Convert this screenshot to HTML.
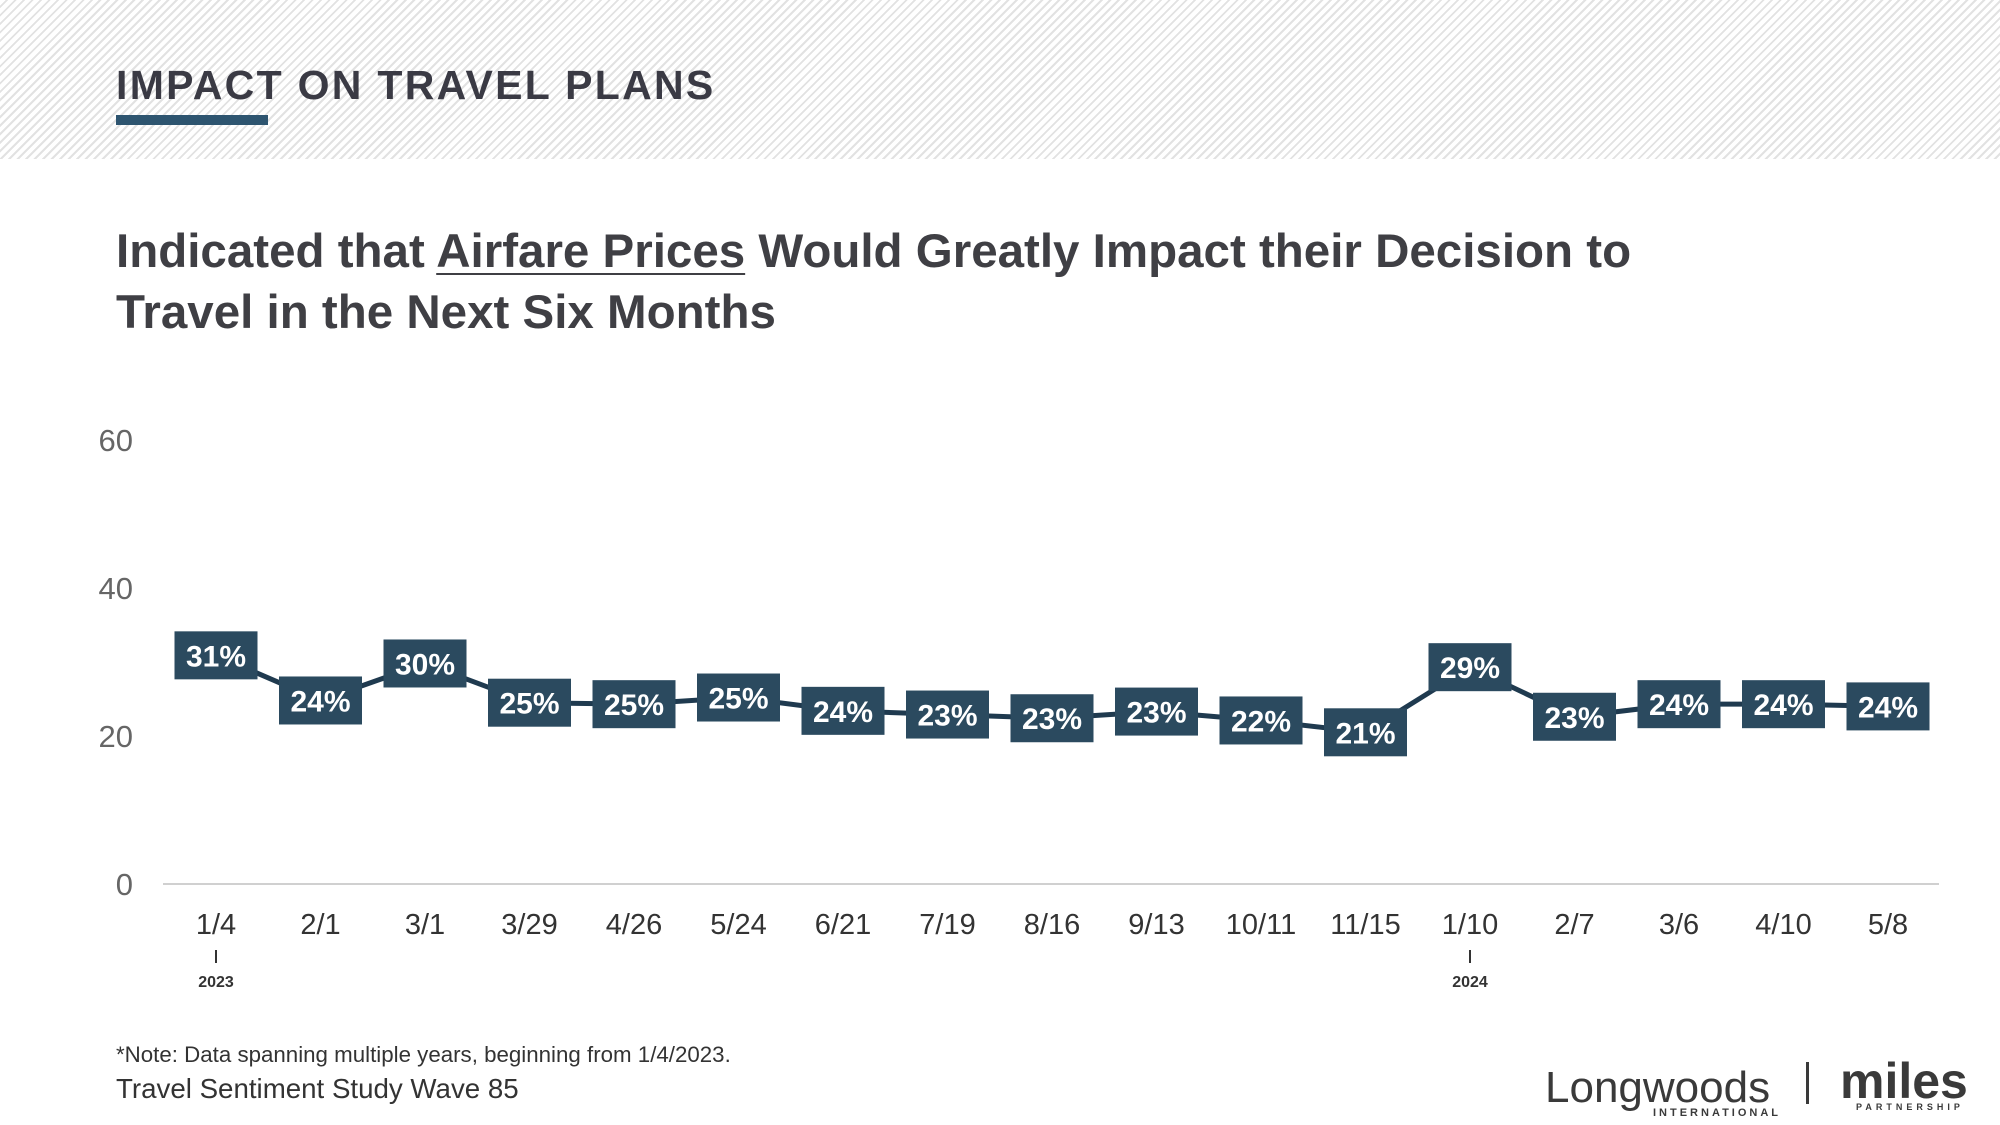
<!DOCTYPE html>
<html><head><meta charset="utf-8"><style>
body{margin:0;width:2000px;height:1125px;overflow:hidden;background:#fff;font-family:"Liberation Sans",sans-serif;}
#hdr{position:absolute;left:0;top:0;width:2000px;height:159px;background:repeating-linear-gradient(135deg,#fff 0 4px,#e2e2e2 4px 6px);}
#ttl{position:absolute;left:116px;top:62px;font-size:41px;font-weight:bold;letter-spacing:2.3px;color:#3a3a44;}
#bar{position:absolute;left:116px;top:115px;width:152px;height:10px;background:#2e5570;}
#ct{position:absolute;left:116px;top:221px;font-size:47.5px;font-weight:bold;color:#3f3f44;line-height:61px;}
#ct u{text-decoration-thickness:2px;text-underline-offset:6px;}
#note{position:absolute;left:116px;top:1042px;font-size:22.3px;color:#333;}
#wave{position:absolute;left:116px;top:1073px;font-size:27.7px;color:#333;}
</style></head><body>
<div id="hdr"></div>
<div id="ttl">IMPACT ON TRAVEL PLANS</div>
<div id="bar"></div>
<div id="ct">Indicated that <u>Airfare Prices</u> Would Greatly Impact their Decision to<br>Travel in the Next Six Months</div>
<svg id="chart" width="2000" height="1125" style="position:absolute;left:0;top:0" font-family="Liberation Sans, sans-serif"></svg>
<div id="note">*Note: Data spanning multiple years, beginning from 1/4/2023.</div>
<div id="wave">Travel Sentiment Study Wave 85</div>
<svg width="480" height="85" style="position:absolute;left:1520px;top:1040px" font-family="Liberation Sans, sans-serif">
<text x="25" y="62" font-size="44" fill="#3a3a3a">Longwoods</text>
<text x="133" y="76" font-size="11" fill="#3a3a3a" letter-spacing="3" font-weight="bold">INTERNATIONAL</text>
<rect x="286" y="22" width="3" height="42" fill="#3a3a3a"/>
<text x="320" y="58" font-size="50" font-weight="bold" fill="#3a3a3a">miles</text>
<text x="336" y="70" font-size="9" font-weight="bold" fill="#3a3a3a" letter-spacing="4">PARTNERSHIP</text>
</svg>
<script>
const categories=["1/4","2/1","3/1","3/29","4/26","5/24","6/21","7/19","8/16","9/13","10/11","11/15","1/10","2/7","3/6","4/10","5/8"];
const values=[30.9,24.8,29.8,24.5,24.3,25.2,23.4,22.9,22.4,23.3,22.1,20.5,29.3,22.6,24.3,24.3,24.0];
const valueLabels=["31%","24%","30%","25%","25%","25%","24%","23%","23%","23%","22%","21%","29%","23%","24%","24%","24%"];
const yTicks=[0,20,40,60];
const years=[{i:0,label:"2023"},{i:12,label:"2024"}];
const NS="http://www.w3.org/2000/svg";
const svg=document.getElementById('chart');
const X=i=>216+i*104.5;
const Y=v=>884-v*7.4;
function mk(t,a,p){const e=document.createElementNS(NS,t);for(const k in a)e.setAttribute(k,a[k]);(p||svg).appendChild(e);return e;}
yTicks.forEach(v=>{const t=mk('text',{x:133,y:Y(v)+11,'text-anchor':'end','font-size':31,fill:'#666'});t.textContent=v;

});
const ax=mk('line',{x1:163,x2:1939,y1:884,y2:884,stroke:'#d0d0d0','stroke-width':2});


categories.forEach((c,i)=>{const t=mk('text',{x:X(i),y:934,'text-anchor':'middle','font-size':29,fill:'#333'});t.textContent=c;

});
years.forEach(y=>{mk('line',{x1:X(y.i),x2:X(y.i),y1:950,y2:963,stroke:'#333','stroke-width':2});
const t=mk('text',{x:X(y.i),y:987,'text-anchor':'middle','font-size':16,'font-weight':'bold',fill:'#333'});t.textContent=y.label;

});
const pl=mk('polyline',{points:values.map((v,i)=>X(i)+','+Y(v)).join(' '),fill:'none',stroke:'#1f3a4f','stroke-width':5});


values.forEach((v,i)=>{const g=mk('g',{});


mk('rect',{x:X(i)-41.5,y:Y(v)-24,width:83,height:48,fill:'#2b4a5f'},g);
const t=mk('text',{x:X(i),y:Y(v)+11,'text-anchor':'middle','font-size':30,'font-weight':'bold',fill:'#fff'},g);t.textContent=valueLabels[i];});
</script>
</body></html>
